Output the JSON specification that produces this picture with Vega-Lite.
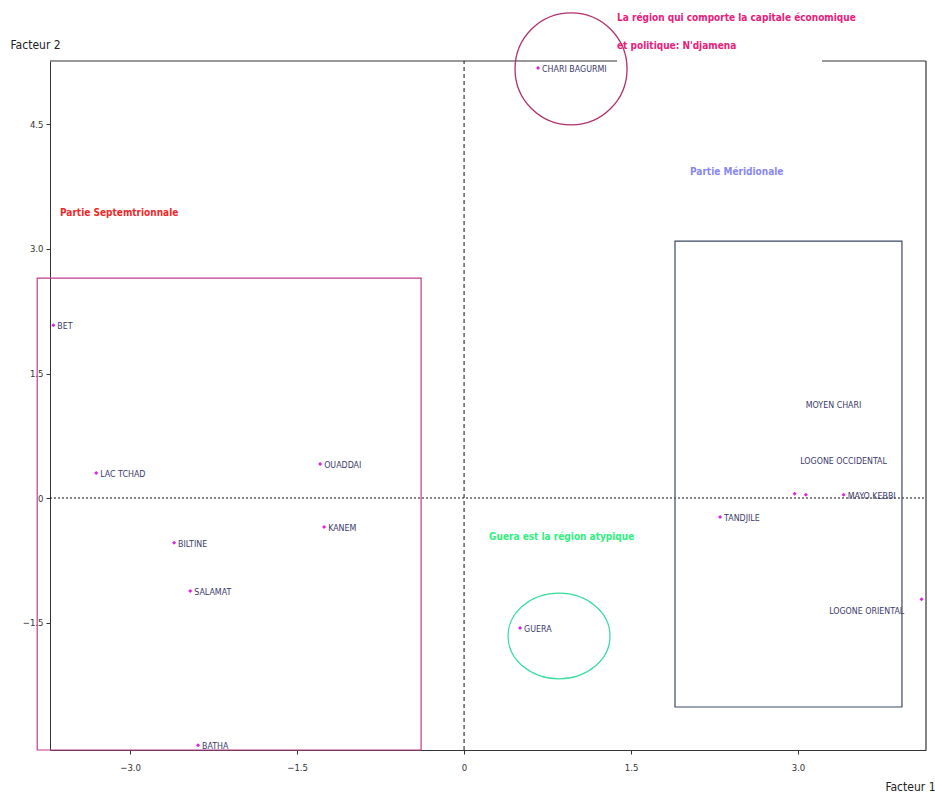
{
  "$schema": "https://vega.github.io/schema/vega-lite/v6.json",
  "width": 876,
  "height": 689,
  "autosize": {"type": "none"},
  "padding": {"left": 50, "top": 61, "right": 9, "bottom": 45},
  "background": "white",
  "config": {
    "view": {"stroke": null},
    "font": "'DejaVu Sans Condensed', sans-serif",
    "axis": {"grid": false, "domainColor": "#333333", "tickColor": "#333333", "labelColor": "#333333", "labelFont": "'DejaVu Sans Condensed', sans-serif", "labelFontSize": 9.5, "titleFont": "'DejaVu Sans Condensed', sans-serif", "titleFontSize": 12, "titleFontWeight": "normal", "titleColor": "#222222", "tickSize": 4}
  },
  "datasets": {
    "pts": [
      {"name": "CHARI BAGURMI", "x": 0.665, "y": 5.18, "label": "CHARI BAGURMI"},
      {"name": "BET", "x": -3.69, "y": 2.08, "label": "BET"},
      {"name": "LAC TCHAD", "x": -3.305, "y": 0.30, "label": "LAC TCHAD"},
      {"name": "OUADDAI", "x": -1.293, "y": 0.41, "label": "OUADDAI"},
      {"name": "KANEM", "x": -1.257, "y": -0.35, "label": "KANEM"},
      {"name": "BILTINE", "x": -2.605, "y": -0.54, "label": "BILTINE"},
      {"name": "SALAMAT", "x": -2.46, "y": -1.12, "label": "SALAMAT"},
      {"name": "BATHA", "x": -2.39, "y": -2.98, "label": "BATHA"},
      {"name": "GUERA", "x": 0.503, "y": -1.566, "label": "GUERA"},
      {"name": "TANDJILE", "x": 2.30, "y": -0.23, "label": "TANDJILE"},
      {"name": "MOYEN CHARI", "x": 2.97, "y": 0.05, "label": ""},
      {"name": "LOGONE OCCIDENTAL", "x": 3.07, "y": 0.04, "label": ""},
      {"name": "MAYO KEBBI", "x": 3.41, "y": 0.04, "label": "MAYO KEBBI"},
      {"name": "LOGONE ORIENTAL", "x": 4.11, "y": -1.22, "label": ""}
    ],
    "moved": [
      {"label": "MOYEN CHARI", "x": 3.07, "y": 1.12},
      {"label": "LOGONE OCCIDENTAL", "x": 3.02, "y": 0.446},
      {"label": "LOGONE ORIENTAL", "x": 3.28, "y": -1.36}
    ]
  },
  "encoding": {
    "x": {"field": "x", "type": "quantitative", "scale": {"domain": [-3.72, 4.15], "nice": false, "zero": false},
      "axis": {"values": [-3, -1.5, 0, 1.5, 3], "labelExpr": "datum.value == 0 ? '0' : format(datum.value, '.1f')", "title": "Facteur 1", "titleAlign": "right", "titleAnchor": null, "titleX": 885, "titleY": 36, "titleBaseline": "middle", "labelPadding": 8}},
    "y": {"field": "y", "type": "quantitative", "scale": {"domain": [-3.036, 5.265], "nice": false, "zero": false},
      "axis": {"values": [-1.5, 0, 1.5, 3, 4.5], "labelExpr": "datum.value == 0 ? '0' : format(datum.value, '.1f')", "title": "Facteur 2", "titleAngle": 0, "titleAlign": "left", "titleBaseline": "middle", "titleX": -40, "titleY": -17, "labelPadding": 3}}
  },
  "layer": [
    {
      "data": {"values": [{"x": -3.72, "x2": 1.374, "y": 5.265, "y2": 5.265}, {"x": 3.216, "x2": 4.15, "y": 5.265, "y2": 5.265}, {"x": 4.15, "x2": 4.15, "y": -3.036, "y2": 5.265}]},
      "mark": {"type": "rule", "color": "#333333", "strokeWidth": 1.2},
      "encoding": {"x2": {"field": "x2"}, "y2": {"field": "y2"}}
    },
    {
      "data": {"values": [{"x": -3.72, "x2": 4.15, "y": 0, "y2": 0}]},
      "mark": {"type": "rule", "color": "#111111", "strokeDash": [2, 2], "strokeWidth": 1},
      "encoding": {"x2": {"field": "x2"}, "y2": {"field": "y2"}}
    },
    {
      "data": {"values": [{"x": 0, "x2": 0, "y": -3.036, "y2": 5.265}]},
      "mark": {"type": "rule", "color": "#111111", "strokeDash": [4, 3], "strokeWidth": 1},
      "encoding": {"x2": {"field": "x2"}, "y2": {"field": "y2"}}
    },
    {
      "data": {"values": [{"x": -3.835, "x2": -0.386, "y": 2.65, "y2": -3.036}]},
      "mark": {"type": "rect", "fillOpacity": 0, "stroke": "#c03c8c", "strokeWidth": 1.2},
      "encoding": {"x2": {"field": "x2"}, "y2": {"field": "y2"}}
    },
    {
      "data": {"values": [{"x": 1.895, "x2": 3.934, "y": 3.096, "y2": -2.518}]},
      "mark": {"type": "rect", "fillOpacity": 0, "stroke": "#3c4a64", "strokeWidth": 1.2},
      "encoding": {"x2": {"field": "x2"}, "y2": {"field": "y2"}}
    },
    {
      "data": {"values": [{"x": 0.961, "y": 5.17}]},
      "mark": {"type": "point", "shape": "M -1 0 A 1 1 0 1 0 1 0 A 1 1 0 1 0 -1 0", "filled": false, "size": 12544, "stroke": "#b0306a", "strokeWidth": 1.3, "opacity": 1}
    },
    {
      "data": {"values": [{"x": 0.853, "y": -1.663}]},
      "mark": {"type": "point", "shape": "M -1 0 A 1 0.84 0 1 0 1 0 A 1 0.84 0 1 0 -1 0", "filled": false, "size": 10404, "stroke": "#40dca0", "strokeWidth": 1.3, "opacity": 1}
    },
    {
      "data": {"name": "pts"},
      "mark": {"type": "point", "shape": "diamond", "filled": true, "size": 16, "color": "#e020e0", "opacity": 1}
    },
    {
      "data": {"name": "pts"},
      "mark": {"type": "text", "align": "left", "baseline": "middle", "dx": 4, "dy": 1, "fontSize": 8.8, "color": "#3a3a6a"},
      "encoding": {"text": {"field": "label"}}
    },
    {
      "data": {"name": "moved"},
      "mark": {"type": "text", "align": "left", "baseline": "middle", "fontSize": 8.8, "color": "#3a3a6a"},
      "encoding": {"text": {"field": "label"}}
    },
    {
      "data": {"values": [{"t": "Partie Septemtrionnale", "x": -3.63, "y": 3.43}]},
      "mark": {"type": "text", "align": "left", "baseline": "middle", "fontSize": 10, "fontWeight": "bold", "color": "#f02828"},
      "encoding": {"text": {"field": "t"}}
    },
    {
      "data": {"values": [{"t": "Partie Méridionale", "x": 2.03, "y": 3.93}]},
      "mark": {"type": "text", "align": "left", "baseline": "middle", "fontSize": 10, "fontWeight": "bold", "color": "#8888f0"},
      "encoding": {"text": {"field": "t"}}
    },
    {
      "data": {"values": [{"t": "La région qui comporte la capitale économique", "x": 1.374, "y": 5.78}, {"t": "et politique: N'djamena", "x": 1.374, "y": 5.45}]},
      "mark": {"type": "text", "align": "left", "baseline": "middle", "fontSize": 10, "fontWeight": "bold", "color": "#e8207a"},
      "encoding": {"text": {"field": "t"}}
    },
    {
      "data": {"values": [{"t": "Guera est la région atypique", "x": 0.225, "y": -0.47}]},
      "mark": {"type": "text", "align": "left", "baseline": "middle", "fontSize": 10, "fontWeight": "bold", "color": "#30f080"},
      "encoding": {"text": {"field": "t"}}
    }
  ]
}
